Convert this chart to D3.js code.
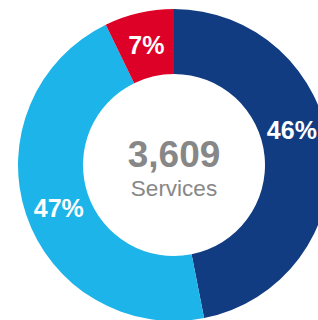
<!DOCTYPE html>
<html>
<head>
<meta charset="utf-8">
<script src="https://cdn.jsdelivr.net/npm/d3@7"></script>
<style>
  html, body { margin: 0; padding: 0; background: #fff; overflow: hidden; }
  svg { display: block; }
</style>
</head>
<body>
<svg id="chart" width="318" height="320"></svg>
<script>
// Data
const categories = ["Segment A", "Segment B", "Segment C"];
const values = [1693, 1656, 260];
const percentLabels = ["46%", "47%", "7%"];
const colors = ["#123c82", "#1db4e9", "#dd0027"];
const totalLabel = "3,609";
const subLabel = "Services";
const labelAngleShift = [-11, -2, 0]; // degrees

const W = 318, H = 320;
const cx = 174, cy = 165;
const outerR = 156, innerR = 91;

const svg = d3.select("#chart");
const g = svg.append("g").attr("transform", `translate(${cx},${cy})`);

const pie = d3.pie().sort(null).value(d => d.value).startAngle(0).endAngle(2 * Math.PI);
const data = categories.map((c, i) => ({ cat: c, value: values[i], label: percentLabels[i], color: colors[i], shift: labelAngleShift[i] }));
const arcs = pie(data);

const arc = d3.arc().innerRadius(innerR).outerRadius(outerR);

g.selectAll("path.slice")
  .data(arcs)
  .enter().append("path")
  .attr("class", "slice")
  .attr("d", arc)
  .attr("fill", d => d.data.color);

const labelR = 123;
g.selectAll("text.pct")
  .data(arcs)
  .enter().append("text")
  .attr("class", "pct")
  .attr("x", d => {
    const a = (d.startAngle + d.endAngle) / 2 + d.data.shift * Math.PI / 180;
    return labelR * Math.sin(a);
  })
  .attr("y", d => {
    const a = (d.startAngle + d.endAngle) / 2 + d.data.shift * Math.PI / 180;
    return -labelR * Math.cos(a);
  })
  .attr("dy", "0.36em")
  .attr("text-anchor", "middle")
  .attr("font-family", "Liberation Sans, Arial, sans-serif")
  .attr("font-weight", "bold")
  .attr("font-size", 25)
  .attr("fill", "#fff")
  .text(d => d.data.label);

g.append("text")
  .attr("x", 0)
  .attr("y", 1.5)
  .attr("text-anchor", "middle")
  .attr("font-family", "Liberation Sans, Arial, sans-serif")
  .attr("font-weight", "bold")
  .attr("font-size", 37)
  .attr("fill", "#878787")
  .text(totalLabel);

g.append("text")
  .attr("x", 0)
  .attr("y", 31)
  .attr("text-anchor", "middle")
  .attr("font-family", "Liberation Sans, Arial, sans-serif")
  .attr("font-size", 22.5)
  .attr("fill", "#878787")
  .text(subLabel);
</script>
</body>
</html>
